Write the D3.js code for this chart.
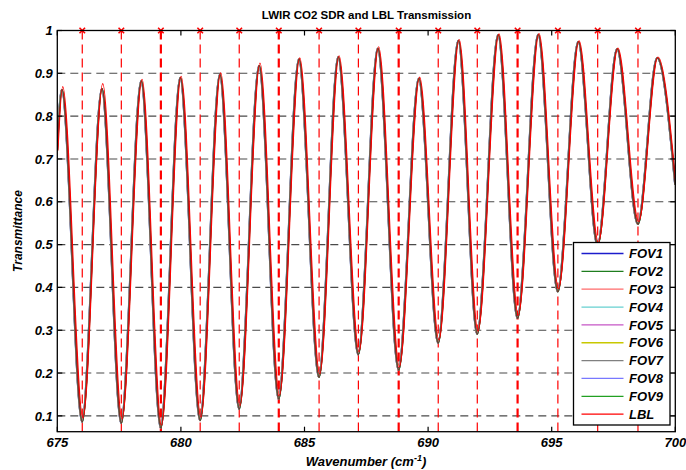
<!DOCTYPE html>
<html>
<head>
<meta charset="utf-8">
<script src="https://cdn.jsdelivr.net/npm/d3@7"></script>
<style>
  body { margin: 0; background: #fff; }
  text { font-family: "Liberation Sans", Arial, sans-serif; }
</style>
</head>
<body>
<div id="chart-area"></div>
<script>
// spectrum extrema (wavenumber, transmittance)
const wavenumber = [675.0, 675.19, 676.01, 676.81, 677.59, 678.40, 679.19, 679.98, 680.78, 681.58, 682.36,
  683.17, 683.96, 684.78, 685.59, 686.37, 687.18, 687.97, 688.81, 689.63, 690.41, 691.23, 691.99,
  692.84, 693.62, 694.46, 695.25, 696.08, 696.86, 697.65, 698.49, 699.27, 700.0];
const lblT = [0.72, 0.869, 0.095, 0.876, 0.092, 0.886, 0.078, 0.893, 0.097, 0.901, 0.124,
  0.924, 0.148, 0.936, 0.198, 0.941, 0.250, 0.962, 0.215, 0.891, 0.277, 0.979, 0.298,
  0.992, 0.335, 0.993, 0.397, 0.976, 0.505, 0.959, 0.554, 0.938, 0.64];
const sdrT = [0.72, 0.862, 0.086, 0.864, 0.083, 0.882, 0.072, 0.890, 0.089, 0.897, 0.116,
  0.918, 0.139, 0.933, 0.190, 0.938, 0.243, 0.958, 0.207, 0.888, 0.270, 0.977, 0.291,
  0.990, 0.328, 0.991, 0.390, 0.974, 0.498, 0.957, 0.548, 0.936, 0.64];

// CO2 line centres (red dashed markers)
const lineCentres = [676.01, 677.59, 679.19, 680.78, 682.36, 683.96, 685.59, 687.18, 688.81,
  690.41, 691.99, 693.62, 695.25, 696.86, 698.49];
const strongLines = [679.19, 683.96, 688.81, 693.62];

const series = ['FOV1', 'FOV2', 'FOV3', 'FOV4', 'FOV5', 'FOV6', 'FOV7', 'FOV8', 'FOV9', 'LBL'];
const colors = ['#1c1ccc', '#1e7d1e', '#ff6a6a', '#66d0d0', '#c656c6', '#c8c800', '#808080', '#7878ff', '#22a022', '#ff0000'];

const xTicks = [675, 680, 685, 690, 695, 700];
const yTicks = [0.1, 0.2, 0.3, 0.4, 0.5, 0.6, 0.7, 0.8, 0.9, 1];

const W = 686, H = 470;
const margin = { left: 57.3, right: 10.7, top: 30.5, bottom: 38.3 },
  width = W - margin.left - margin.right,
  height = H - margin.top - margin.bottom;

let svg = d3.select('#chart-area')
  .append('svg')
  .attr('width', W)
  .attr('height', H)

let g = svg.append('g')
  .attr('transform', `translate(${margin.left}, ${margin.top})`)

let x = d3.scaleLinear().domain([675, 700]).range([0, width])
let y = d3.scaleLinear().domain([0.063, 1]).range([height, 0])

svg.append('defs').append('clipPath').attr('id', 'clip')
  .append('rect').attr('width', width).attr('height', height)

// horizontal grid
g.append('g')
  .selectAll('line')
  .data(yTicks.filter(d => d < 1))
  .join('line')
  .attr('x1', 0).attr('x2', width)
  .attr('y1', d => y(d)).attr('y2', d => y(d))
  .attr('stroke', '#4a4a4a')
  .attr('stroke-width', 1.1)
  .attr('stroke-dasharray', '8,5')

// red dashed line centres
g.append('g')
  .selectAll('line')
  .data(lineCentres)
  .join('line')
  .attr('x1', d => x(d)).attr('x2', d => x(d))
  .attr('y1', 0).attr('y2', height)
  .attr('stroke', '#ff0000')
  .attr('stroke-width', d => strongLines.includes(d) ? 2.2 : 1.2)
  .attr('stroke-dasharray', '9,5')

let line = d3.line()
  .x((d, i) => x(wavenumber[i]))
  .y(d => y(d))
  .curve(d3.curveMonotoneX)

let curves = g.append('g').attr('clip-path', 'url(#clip)')

// FOV spectra (nearly identical, drawn under LBL)
series.slice(0, 9).forEach((s, i) => {
  curves.append('path')
    .datum(sdrT)
    .attr('fill', 'none')
    .attr('stroke', colors[i])
    .attr('stroke-width', 1.4)
    .attr('transform', `translate(${-0.5 + i * 0.08}, 0)`)
    .attr('d', line)
})
curves.append('path')
  .datum(sdrT)
  .attr('fill', 'none')
  .attr('stroke', '#7a2a2a')
  .attr('stroke-width', 1.3)
  .attr('d', line)

curves.append('path')
  .datum(lblT)
  .attr('fill', 'none')
  .attr('stroke', '#ff0000')
  .attr('stroke-width', 1.1)
  .attr('transform', 'translate(0.7, 0)')
  .attr('d', line)

// x markers at top
g.append('g')
  .selectAll('path')
  .data(lineCentres)
  .join('path')
  .attr('transform', d => `translate(${x(d)}, ${y(1)})`)
  .attr('d', d3.symbol(d3.symbolX, 22))
  .attr('stroke', '#ff0000')
  .attr('stroke-width', 1.6)
  .attr('fill', 'none')

// axes box and inward ticks
g.append('rect')
  .attr('width', width).attr('height', height)
  .attr('fill', 'none').attr('stroke', '#000').attr('stroke-width', 1.3)

let tickG = g.append('g').attr('stroke', '#000').attr('stroke-width', 1.2)
xTicks.forEach(t => {
  tickG.append('line').attr('x1', x(t)).attr('x2', x(t)).attr('y1', height).attr('y2', height - 5)
  tickG.append('line').attr('x1', x(t)).attr('x2', x(t)).attr('y1', 0).attr('y2', 5)
})
yTicks.forEach(t => {
  tickG.append('line').attr('x1', 0).attr('x2', 5).attr('y1', y(t)).attr('y2', y(t))
  tickG.append('line').attr('x1', width).attr('x2', width - 5).attr('y1', y(t)).attr('y2', y(t))
})

g.append('g')
  .selectAll('text')
  .data(xTicks)
  .join('text')
  .attr('x', d => x(d))
  .attr('y', height + 15)
  .attr('text-anchor', 'middle')
  .style('font', 'italic bold 13px "Liberation Sans", Arial, sans-serif')
  .text(d => d)

g.append('g')
  .selectAll('text')
  .data(yTicks)
  .join('text')
  .attr('x', -4.5)
  .attr('y', d => y(d) + 4.7)
  .attr('text-anchor', 'end')
  .style('font', 'italic bold 13px "Liberation Sans", Arial, sans-serif')
  .text(d => d === 1 ? '1' : d3.format('.1f')(d))

// titles
svg.append('text')
  .attr('x', 366.5).attr('y', 19)
  .attr('text-anchor', 'middle')
  .style('font', 'bold 11.5px "Liberation Sans", Arial, sans-serif')
  .text('LWIR CO2 SDR and LBL Transmission')

let xl = svg.append('text')
  .attr('x', 366).attr('y', 466)
  .attr('text-anchor', 'middle')
  .style('font', 'italic bold 13px "Liberation Sans", Arial, sans-serif')
xl.append('tspan').text('Wavenumber (cm')
xl.append('tspan').attr('dy', -5).style('font-size', '9px').text('-1')
xl.append('tspan').attr('dy', 5).text(')')

svg.append('text')
  .attr('transform', 'translate(22, 231) rotate(-90)')
  .attr('text-anchor', 'middle')
  .style('font', 'italic bold 12px "Liberation Sans", Arial, sans-serif')
  .text('Transmittance')

// legend
let legend = svg.append('g').attr('transform', 'translate(573.5, 242.5)')
legend.append('rect')
  .attr('width', 96.5).attr('height', 182.5)
  .attr('fill', '#fff').attr('stroke', '#000').attr('stroke-width', 1.3)

let item = legend.selectAll('g.item')
  .data(series)
  .join('g')
  .attr('class', 'item')
  .attr('transform', (d, i) => `translate(0, ${11 + i * 17.85})`)

item.append('line')
  .attr('x1', 8).attr('x2', 50)
  .attr('stroke', (d, i) => colors[i])
  .attr('stroke-width', 1.3)

item.append('text')
  .attr('x', 55.5).attr('y', 4.7)
  .style('font', 'italic bold 13px "Liberation Sans", Arial, sans-serif')
  .text(d => d)
</script>
</body>
</html>
